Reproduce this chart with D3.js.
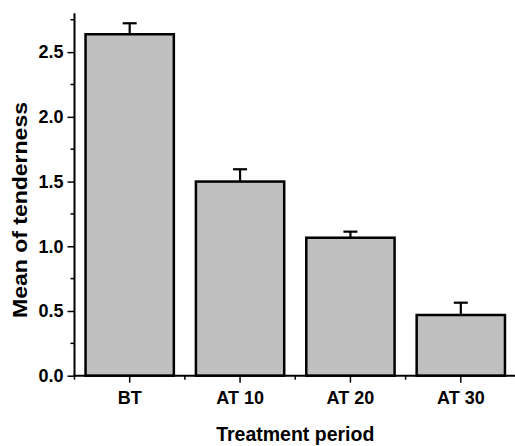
<!DOCTYPE html>
<html>
<head>
<meta charset="utf-8">
<script src="https://cdn.jsdelivr.net/npm/d3@7"></script>
<style>
  html, body { margin: 0; padding: 0; background: #fff; }
  text { font-family: "Liberation Sans", Arial, sans-serif; font-weight: bold; fill: #000; }
</style>
</head>
<body>
<svg id="chart" width="515" height="446"></svg>
<script>
const categories = ["BT", "AT 10", "AT 20", "AT 30"];
const means = [2.638, 1.50, 1.066, 0.469];
const errors = [0.085, 0.095, 0.047, 0.095];
const yTicks = [0, 0.5, 1.0, 1.5, 2.0, 2.5];
const yMinorTicks = [0.25, 0.75, 1.25, 1.75, 2.25, 2.75];
const xTitle = "Treatment period";
const yTitle = "Mean of tenderness";

const svg = d3.select("#chart");
const x0 = 74.5, x1 = 516, yBottom = 375.7, yTop = 13.3;

const x = d3.scaleBand().domain(categories).range([x0, x1]).paddingInner(0.2).paddingOuter(0.1);
const y = d3.scaleLinear().domain([0, 2.8]).range([yBottom, yTop]);

// bars
svg.append("g").selectAll("rect").data(categories).join("rect")
  .attr("x", d => x(d))
  .attr("y", (d, i) => y(means[i]))
  .attr("width", x.bandwidth())
  .attr("height", (d, i) => y(0) - y(means[i]))
  .attr("fill", "#c0c0c0")
  .attr("stroke", "#000")
  .attr("stroke-width", 2.5);

// error bars (upper only)
const eg = svg.append("g").attr("stroke", "#000").attr("stroke-width", 2.2);
categories.forEach((c, i) => {
  const cx = x(c) + x.bandwidth() / 2;
  eg.append("line").attr("x1", cx).attr("x2", cx).attr("y1", y(means[i])).attr("y2", y(means[i] + errors[i]));
  eg.append("line").attr("x1", cx - 7).attr("x2", cx + 7).attr("y1", y(means[i] + errors[i])).attr("y2", y(means[i] + errors[i]));
});

// y axis
const yAxis = svg.append("g").attr("transform", `translate(${x0},0)`)
  .call(d3.axisLeft(y).tickValues(yTicks).tickFormat(d3.format(".1f")).tickSize(7).tickPadding(4).tickSizeOuter(0));
yAxis.select(".domain").remove();
yAxis.selectAll(".tick line").attr("stroke-width", 1.5);
yAxis.selectAll("text").style("font-size", "18px");
yAxis.append("line").attr("x1", 0).attr("x2", 0).attr("y1", yBottom + 1).attr("y2", yTop).attr("stroke", "#000").attr("stroke-width", 2);
yAxis.selectAll(".minor").data(yMinorTicks).join("line").attr("class", "minor")
  .attr("x1", -4).attr("x2", 0).attr("y1", d => y(d)).attr("y2", d => y(d))
  .attr("stroke", "#000").attr("stroke-width", 1.5);

// x axis
const xAxis = svg.append("g").attr("transform", `translate(0,${yBottom})`)
  .call(d3.axisBottom(x).tickSize(7).tickPadding(8.5).tickSizeOuter(0));
xAxis.select(".domain").remove();
xAxis.selectAll(".tick line").attr("stroke-width", 1.5);
xAxis.selectAll("text").style("font-size", "18px");
xAxis.append("line").attr("x1", x0 - 1).attr("x2", 515).attr("y1", 0).attr("y2", 0).attr("stroke", "#000").attr("stroke-width", 2);
const bounds = d3.range(categories.length).map(i => x0 + i * x.step());
xAxis.selectAll(".minor").data(bounds).join("line").attr("class", "minor")
  .attr("x1", d => d).attr("x2", d => d).attr("y1", 0).attr("y2", 4)
  .attr("stroke", "#000").attr("stroke-width", 1.5);

// titles
svg.append("text").attr("x", (x0 + x1) / 2).attr("y", 440.7).attr("text-anchor", "middle")
  .style("font-size", "19.5px").text(xTitle);
svg.append("text").attr("transform", "translate(26.7,210) rotate(-90)").attr("text-anchor", "middle")
  .style("font-size", "21px").attr("textLength", 216).attr("lengthAdjust", "spacingAndGlyphs").text(yTitle);
</script>
</body>
</html>
